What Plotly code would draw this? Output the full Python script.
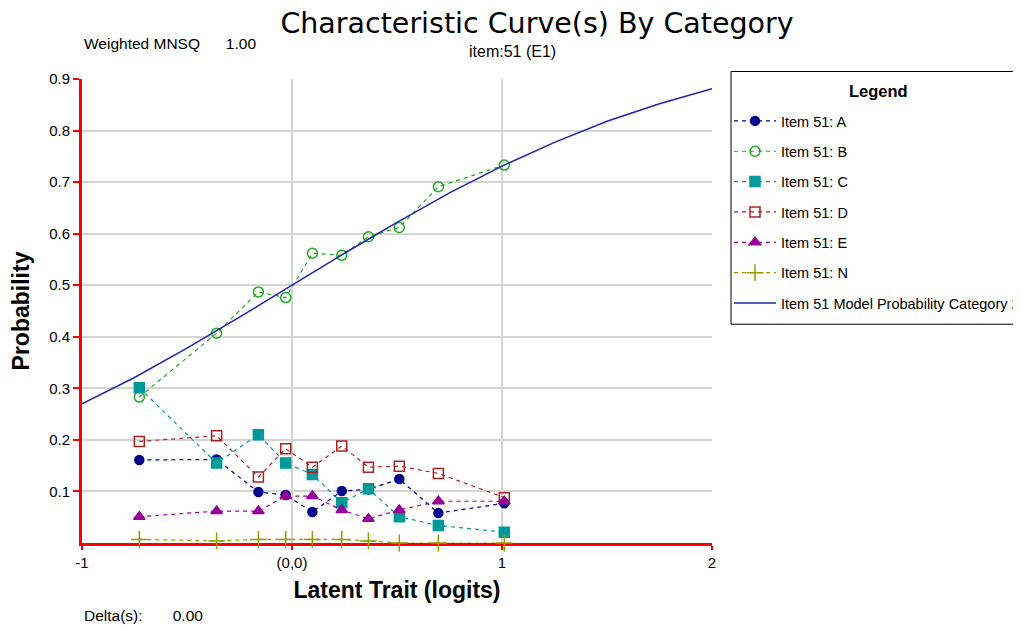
import plotly.graph_objects as go

# ---- data ----
x_logits = [-0.727, -0.359, -0.160, -0.030, 0.097, 0.237, 0.364, 0.511, 0.697, 1.011]
item_a = [0.161, 0.162, 0.099, 0.093, 0.060, 0.101, 0.104, 0.124, 0.058, 0.077]
item_b = [0.283, 0.407, 0.487, 0.476, 0.562, 0.558, 0.594, 0.612, 0.691, 0.733]
item_c = [0.301, 0.155, 0.210, 0.155, 0.133, 0.078, 0.105, 0.051, 0.034, 0.021]
item_d = [0.197, 0.208, 0.128, 0.183, 0.147, 0.188, 0.147, 0.149, 0.135, 0.088]
item_e = [0.051, 0.062, 0.062, 0.091, 0.091, 0.064, 0.047, 0.064, 0.081, 0.081]
item_n = [0.007, 0.004, 0.007, 0.007, 0.007, 0.007, 0.004, 0.000, 0.000, 0.000]

model_x = [-1.0, -0.75, -0.5, -0.25, 0.0, 0.25, 0.5, 0.75, 1.0, 1.25, 1.5, 1.75, 2.0]
model_y = [0.270, 0.321, 0.378, 0.438, 0.500, 0.562, 0.622, 0.679, 0.731, 0.777, 0.818, 0.852, 0.881]

x_tickvals = [-1, 0, 1, 2]
x_ticktext = ["-1", "(0,0)", "1", "2"]
y_tickvals = [0.1, 0.2, 0.3, 0.4, 0.5, 0.6, 0.7, 0.8, 0.9]
y_ticktext = ["0.1", "0.2", "0.3", "0.4", "0.5", "0.6", "0.7", "0.8", "0.9"]

series = [
    ("Item 51: A", item_a, "#00008B", "circle", 9),
    ("Item 51: B", item_b, "#22AA22", "circle-open", 10),
    ("Item 51: C", item_c, "#009999", "square", 10),
    ("Item 51: D", item_d, "#AA2222", "square-open", 10),
    ("Item 51: E", item_e, "#990099", "triangle-up", 10),
    ("Item 51: N", item_n, "#999900", "cross-thin-open", 12),
]

FONT = "Liberation Sans, Arial, sans-serif"
TITLE_FONT = "DejaVu Sans, Liberation Sans, sans-serif"

# page is offset by the default 8px body margin
OFF = 8
PL, PR, PT, PB = 82, 712, 79, 543.5   # plot area in page pixels
PW, PH = PR - PL, PB - PT


def px(xp):
    return (xp - PL) / PW


def py(yp):
    return (PB - yp) / PH


fig = go.Figure()
for i, (name, vals, color, sym, size) in enumerate(series):
    fig.add_trace(go.Scatter(
        x=x_logits, y=vals, name=name, mode="lines+markers",
        legendgroup=f"g{i}",
        line=dict(color=color, width=1.2, dash="4px,4px"),
        marker=dict(color=color, symbol=sym, size=size,
                    line=dict(color=color, width=1.5)),
        cliponaxis=False,
    ))

fig.add_trace(go.Scatter(
    x=model_x, y=model_y, name="Item 51 Model Probability Category 2",
    mode="lines", legendgroup="g6",
    line=dict(color="#2323A8", width=1.5),
))

fig.update_layout(
    width=1021, height=630,
    paper_bgcolor="white", plot_bgcolor="white",
    margin=dict(l=PL - OFF, r=1021 - (PR - OFF), t=PT - OFF,
                b=630 - (PB - OFF), autoexpand=False),
    font=dict(family=FONT, color="black", size=13),
    title=dict(text="Characteristic Curve(s) By Category",
               x=(537 - OFF) / 1021, xref="container", xanchor="center",
               y=1 - 5 / 630, yref="container", yanchor="top",
               font=dict(family=TITLE_FONT, size=28.5, color="black")),
    showlegend=True,
    legend=dict(
        x=px(729), xanchor="left",
        y=py(105), yanchor="top",
        borderwidth=0, bgcolor="rgba(0,0,0,0)",
        font=dict(family=FONT, size=14.5),
        tracegroupgap=8.5,
        itemwidth=42,
    ),
    xaxis=dict(
        range=[-1, 2], tickvals=x_tickvals, ticktext=x_ticktext,
        showline=True, linecolor="red", linewidth=3,
        ticks="outside", tickcolor="red", ticklen=4, tickwidth=2,
        showgrid=True, gridcolor="#d4d4d4", gridwidth=1.5,
        zeroline=False, layer="below traces",
        tickfont=dict(family=FONT, size=15),
        title=dict(text="<b>Latent Trait (logits)</b>",
                   font=dict(family=FONT, size=23), standoff=12),
    ),
    yaxis=dict(
        range=[0, 0.9], tickvals=y_tickvals, ticktext=y_ticktext,
        showline=True, linecolor="red", linewidth=3,
        ticks="outside", tickcolor="red", ticklen=6, tickwidth=1.5,
        showgrid=True, gridcolor="#d4d4d4", gridwidth=1.5,
        zeroline=False, layer="below traces",
        tickfont=dict(family=FONT, size=15),
        title=dict(text="<b>Probability</b>",
                   font=dict(family=FONT, size=23), standoff=16),
    ),
    shapes=[
        dict(type="rect", xref="paper", yref="paper",
             x0=px(731), x1=px(1060), y0=py(324.5), y1=py(71.5),
             line=dict(color="black", width=1), fillcolor="rgba(0,0,0,0)",
             layer="below"),
    ],
    annotations=[
        dict(text="<b>Legend</b>", xref="paper", yref="paper",
             x=px(878), y=py(91), xanchor="center", yanchor="middle",
             showarrow=False, font=dict(family=FONT, size=16.5)),
        dict(text="Weighted MNSQ      1.00", xref="paper", yref="paper",
             x=px(82), y=py(43.5), xanchor="left", yanchor="middle",
             showarrow=False, font=dict(family=FONT, size=15.5)),
        dict(text="item:51 (E1)", xref="paper", yref="paper",
             x=px(512), y=py(51), xanchor="center", yanchor="middle",
             showarrow=False, font=dict(family=FONT, size=16)),
        dict(text="Delta(s):       0.00", xref="paper", yref="paper",
             x=px(82), y=py(616), xanchor="left", yanchor="middle",
             showarrow=False, font=dict(family=FONT, size=15.5)),
    ],
)

fig.write_html("out.html")
